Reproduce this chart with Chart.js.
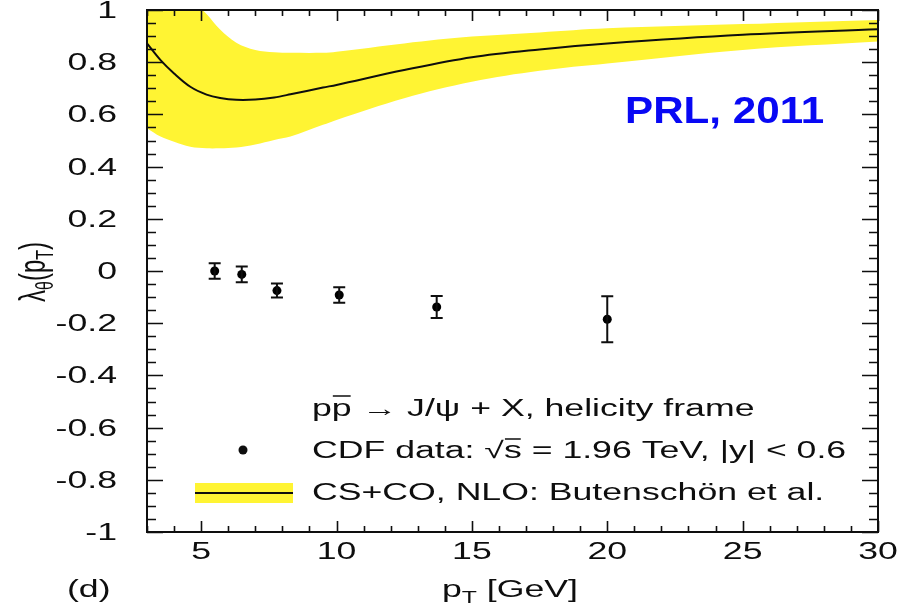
<!DOCTYPE html>
<html>
<head>
<meta charset="utf-8">
<script src="https://cdn.jsdelivr.net/npm/chart.js@4.4.1/dist/chart.umd.min.js"></script>
<style>
  html, body { margin: 0; padding: 0; background: #fff; }
</style>
</head>
<body>
<canvas id="c" width="906" height="606"></canvas>
<script>
// theory band: CS+CO, NLO (Butenschoen et al.)
const bandPt    = [3,     3.5,   4,     4.6,   5.2,   5.7,   6.3,   7.0,   7.7,   8.3,   9.5,   10,    12.5,  15,    17.5,  20,    25,    30];
const bandUpper = [1.15,  1.12,  1.09,  1.04,  0.985, 0.925, 0.875, 0.847, 0.838, 0.836, 0.836, 0.840, 0.872, 0.898, 0.914, 0.930, 0.946, 0.962];
const bandLower = [0.547, 0.515, 0.495, 0.476, 0.470, 0.470, 0.473, 0.485, 0.502, 0.515, 0.560, 0.579, 0.662, 0.725, 0.767, 0.795, 0.847, 0.879];
const bandMid   = [0.872, 0.808, 0.757, 0.706, 0.676, 0.663, 0.656, 0.657, 0.665, 0.677, 0.703, 0.713, 0.770, 0.819, 0.849, 0.872, 0.905, 0.926];

// CDF data points, |y| < 0.6
const cdfPt  = [5.5, 6.5,    7.8,    10.1,   13.7,   20.0];
const cdfLam = [0.0, -0.013, -0.075, -0.092, -0.138, -0.185];
const cdfErr = [0.03, 0.03,  0.027,  0.03,   0.042,  0.088];

const xTicks = [5, 10, 15, 20, 25, 30];
const yTicks = [-1, -0.8, -0.6, -0.4, -0.2, 0, 0.2, 0.4, 0.6, 0.8, 1];

const YELLOW = 'rgb(255,244,51)';
const INK = '#0e0e0e';
const SX = 1.55;   // the original figure is stretched sideways
const FONT = '"Liberation Sans", Arial, Helvetica, sans-serif';

// draw a run of text pieces (subscripts, overlines), stretched by sx
function runWidth(ctx, parts, sx) {
  let w = 0;
  parts.forEach(p => {
    ctx.font = (p.bold ? 'bold ' : '') + (p.size || 23) + 'px ' + FONT;
    w += ctx.measureText(p.t).width * sx;
  });
  return w;
}
function drawRun(ctx, parts, x, y, sx, align) {
  const total = runWidth(ctx, parts, sx);
  let cx = align === 'right' ? x - total : align === 'center' ? x - total / 2 : x;
  parts.forEach(p => {
    const size = p.size || 23;
    ctx.font = (p.bold ? 'bold ' : '') + size + 'px ' + FONT;
    const w = ctx.measureText(p.t).width * sx;
    ctx.save();
    ctx.translate(cx, y + (p.dy || 0));
    ctx.scale(sx, 1);
    ctx.textAlign = 'left';
    ctx.textBaseline = 'alphabetic';
    ctx.fillText(p.t, 0, 0);
    ctx.restore();
    if (p.over) {
      ctx.save();
      ctx.strokeStyle = ctx.fillStyle;
      ctx.lineWidth = 1.5;
      ctx.beginPath();
      ctx.moveTo(cx + (p.ox || 1), y - p.over);
      ctx.lineTo(cx + w - 1, y - p.over);
      ctx.stroke();
      ctx.restore();
    }
    cx += w;
  });
}

const decor = {
  id: 'decor',
  afterDatasetsDraw(chart) {
    const ctx = chart.ctx, xs = chart.scales.x, ys = chart.scales.y;
    // error bars
    ctx.save();
    ctx.strokeStyle = INK;
    ctx.lineWidth = 2;
    cdfPt.forEach((p, i) => {
      const px = xs.getPixelForValue(p);
      const t = ys.getPixelForValue(cdfLam[i] + cdfErr[i]);
      const b = ys.getPixelForValue(cdfLam[i] - cdfErr[i]);
      ctx.beginPath();
      ctx.moveTo(px, t); ctx.lineTo(px, b);
      ctx.moveTo(px - 6, t); ctx.lineTo(px + 6, t);
      ctx.moveTo(px - 6, b); ctx.lineTo(px + 6, b);
      ctx.stroke();
    });
    ctx.restore();
  },
  afterDraw(chart) {
    const ctx = chart.ctx, xs = chart.scales.x, ys = chart.scales.y;
    const a = chart.chartArea;
    ctx.save();
    ctx.strokeStyle = INK;
    ctx.fillStyle = INK;

    // tick marks, inward on all four sides
    ctx.lineWidth = 1.6;
    ctx.beginPath();
    for (let v = 3; v <= 30; v++) {
      const px = Math.round(xs.getPixelForValue(v)) + 0.5;
      const len = v % 5 === 0 ? 11 : 6;
      ctx.moveTo(px, a.bottom); ctx.lineTo(px, a.bottom - len);
      ctx.moveTo(px, a.top); ctx.lineTo(px, a.top + len);
    }
    for (let i = 0; i <= 40; i++) {
      const py = Math.round(ys.getPixelForValue(-1 + i * 0.05)) + 0.5;
      const len = i % 4 === 0 ? 16 : 9;
      ctx.moveTo(a.left, py); ctx.lineTo(a.left + len, py);
      ctx.moveTo(a.right, py); ctx.lineTo(a.right - len, py);
    }
    ctx.stroke();

    // frame
    ctx.lineWidth = 2;
    ctx.strokeRect(a.left, a.top, a.right - a.left, a.bottom - a.top);

    // tick labels
    yTicks.forEach(v => {
      const py = ys.getPixelForValue(v);
      drawRun(ctx, [{ t: String(v) }], a.left - 30, py + 8, SX, 'right');
    });
    xTicks.forEach(v => {
      const px = xs.getPixelForValue(v);
      drawRun(ctx, [{ t: String(v) }], px, 559, SX, 'center');
    });

    // axis titles
    drawRun(ctx, [{ t: 'p' }, { t: 'T', size: 16, dy: 6 }, { t: ' [GeV]' }], 510, 597, SX, 'center');
    drawRun(ctx, [{ t: '(d)' }], 67, 597, SX, 'left');

    ctx.save();
    ctx.translate(45, 272);
    ctx.scale(SX, 1);
    ctx.rotate(-Math.PI / 2);
    const yTitle = [{ t: 'λ', size: 24 }, { t: 'θ', size: 16, dy: 5 }, { t: '(p', size: 24 }, { t: 'T', size: 16, dy: 5 }, { t: ')', size: 24 }];
    drawRun(ctx, yTitle, 0, 0, 1, 'center');
    ctx.restore();

    // legend
    const lx = 312;
    drawRun(ctx, [{ t: 'p' }, { t: 'p', over: 20 }, { t: ' → J/ψ + X, helicity frame' }], lx, 416, SX, 'left');
    ctx.beginPath();
    ctx.arc(243, 450, 4.5, 0, Math.PI * 2);
    ctx.fill();
    drawRun(ctx, [{ t: 'CDF data: ' }, { t: '√' }, { t: 's', over: 19, ox: 0 }, { t: ' = 1.96 TeV, |y| < 0.6' }], lx, 458, SX, 'left');
    ctx.fillStyle = YELLOW;
    ctx.fillRect(195, 483, 98, 20);
    ctx.fillStyle = INK;
    ctx.lineWidth = 2;
    ctx.beginPath();
    ctx.moveTo(195, 493); ctx.lineTo(293, 493);
    ctx.stroke();
    drawRun(ctx, [{ t: 'CS+CO, NLO: Butenschön et al.' }], lx, 500, SX, 'left');

    // journal tag
    ctx.fillStyle = '#0808f4';
    drawRun(ctx, [{ t: 'PRL, 2011', bold: true, size: 37 }], 625, 123, 1.14, 'left');
    ctx.restore();
  }
};

new Chart(document.getElementById('c'), {
  type: 'line',
  data: {
    datasets: [
      {
        label: 'band upper',
        data: bandPt.map((x, i) => ({ x, y: bandUpper[i] })),
        borderWidth: 0,
        borderColor: YELLOW,
        backgroundColor: YELLOW,
        pointRadius: 0,
        fill: '+1',
        order: 3,
        tension: 0.35
      },
      {
        label: 'band lower',
        data: bandPt.map((x, i) => ({ x, y: bandLower[i] })),
        borderWidth: 0,
        borderColor: YELLOW,
        pointRadius: 0,
        fill: false,
        order: 3,
        tension: 0.35
      },
      {
        label: 'CS+CO, NLO: Butenschön et al.',
        data: bandPt.map((x, i) => ({ x, y: bandMid[i] })),
        borderWidth: 2,
        borderColor: INK,
        pointRadius: 0,
        fill: false,
        order: 1,
        tension: 0.35
      },
      {
        label: 'CDF data',
        data: cdfPt.map((x, i) => ({ x, y: cdfLam[i] })),
        showLine: false,
        pointRadius: 4.5,
        pointBackgroundColor: '#000',
        pointBorderWidth: 0,
        fill: false,
        order: 0
      }
    ]
  },
  options: {
    responsive: false,
    animation: false,
    devicePixelRatio: 1,
    layout: { padding: { top: 10, right: 28, left: 0, bottom: 0 } },
    scales: {
      x: {
        type: 'linear', min: 3, max: 30,
        ticks: { display: false },
        grid: { display: false },
        border: { display: false },
        afterBuildTicks: s => { s.ticks = xTicks.map(v => ({ value: v })); },
        afterFit: s => { s.height = 74; }
      },
      y: {
        type: 'linear', min: -1, max: 1,
        ticks: { display: false },
        grid: { display: false },
        border: { display: false },
        afterBuildTicks: s => { s.ticks = yTicks.map(v => ({ value: v })); },
        afterFit: s => { s.width = 147; }
      }
    },
    plugins: { legend: { display: false }, tooltip: { enabled: false } }
  },
  plugins: [decor]
});
</script>
</body>
</html>
